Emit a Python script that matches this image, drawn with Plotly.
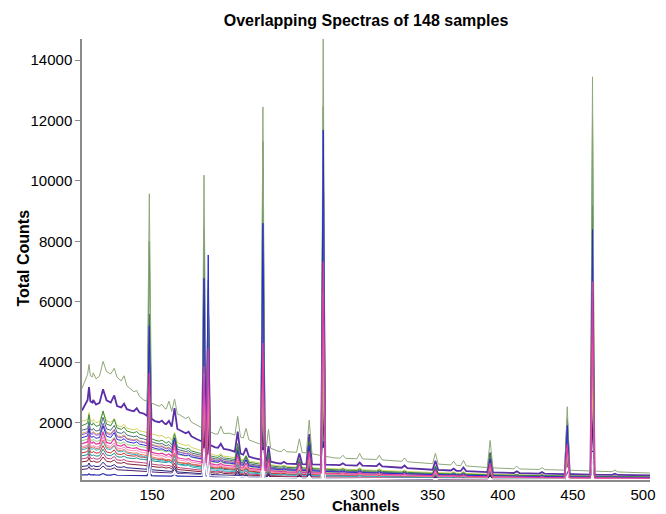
import numpy as np
import plotly.graph_objects as go

# ---------------- data ----------------
bg_channels = [100, 104, 110, 117, 125, 135, 144, 152, 160, 170, 182, 195,
               205, 222, 240, 260, 280, 310, 350, 400, 450, 505]
peak_channels = [105, 115, 123, 148, 166, 187, 190, 211, 217, 229, 233, 255,
                 262, 272, 352, 391, 446, 464]
peak_half_widths = [2.5, 2.5, 2.5, 1.5, 2.0, 1.4, 1.4, 2.0, 2.0, 1.5, 1.5, 2.0,
                    2.0, 1.5, 2.0, 2.0, 1.8, 1.5]
# weak lines / fluctuations
minor_channels = [108, 130, 139, 157, 162, 176, 199, 244, 286, 298, 312, 330,
                  365, 372, 410, 428, 480]
minor_half_width = 2.0

x_ticks = [150, 200, 250, 300, 350, 400, 450, 500]
y_ticks = [2000, 4000, 6000, 8000, 10000, 12000, 14000]

# background counts at bg_channels, peak heights above background at peak_channels,
# small bumps above background at minor_channels
bg_green = [3130, 3600, 3450, 3700, 3500, 3100, 2750, 2600, 2450, 2250, 1900, 1620,
            1650, 1380, 1050, 1000, 830, 780, 640, 480, 420, 330]
pk_green = [350, 400, 250, 6900, 450, 8400, 5000, 650, 350, 11200, 600, 450,
            1100, 13900, 350, 900, 2100, 13050]
mn_green = [150, 250, 120, 100, 300, 120, 250, 80, 100, 180, 150, 120, 130, 180, 90, 60, 60]

bg_purple = [2400, 2750, 2600, 2750, 2550, 2400, 2300, 2050, 1950, 1750, 1450, 1180,
             1100, 830, 650, 620, 600, 560, 440, 340, 290, 250]
pk_purple = [450, 400, 300, 3000, 650, 4800, 4200, 700, 250, 6500, 500, 350,
             1000, 9000, 300, 650, 1700, 7000]
mn_purple = [100, 150, 120, 80, 150, 100, 150, 60, 60, 100, 90, 80, 70, 120, 60, 50, 40]

bg_darkgreen = [1900, 1980, 1880, 1960, 1820, 1680, 1580, 1420, 1320, 1170, 1010, 860,
                810, 660, 530, 490, 440, 390, 320, 260, 230, 200]
pk_darkgreen = [300, 450, 250, 6500, 400, 7200, 5500, 550, 200, 10700, 450, 300,
                900, 12000, 250, 700, 1900, 11900]
mn_darkgreen = [80, 100, 70, 60, 90, 60, 80, 40, 40, 60, 50, 40, 40, 60, 30, 30, 20]

bg_slate = [1750, 1800, 1720, 1800, 1680, 1550, 1460, 1330, 1230, 1090, 950, 800,
            760, 610, 490, 450, 410, 360, 300, 245, 215, 190]
pk_slate = [250, 400, 200, 4200, 350, 7500, 5000, 500, 200, 9900, 400, 250,
            800, 9500, 250, 600, 1500, 9000]
mn_slate = [60, 90, 50, 40, 70, 50, 60, 30, 40, 50, 40, 30, 30, 50, 20, 20, 20]

bg_blue = [1500, 1560, 1480, 1560, 1440, 1340, 1260, 1150, 1060, 950, 830, 700,
           660, 540, 440, 410, 370, 330, 280, 230, 200, 180]
pk_blue = [250, 350, 200, 4000, 500, 6000, 6800, 450, 200, 8100, 350, 250,
           850, 11300, 200, 550, 1700, 8200]
mn_blue = [50, 80, 60, 40, 60, 40, 60, 30, 30, 40, 40, 30, 30, 40, 20, 20, 20]

bg_yellow = [2050, 2100, 2000, 2080, 1900, 1780, 1700, 1600, 1480, 1300, 1120, 920,
             870, 700, 560, 510, 470, 420, 350, 280, 240, 210]
pk_yellow = [250, 300, 200, 2000, 300, 2800, 2200, 400, 150, 3000, 300, 200,
             600, 3500, 200, 400, 900, 3300]
mn_yellow = [70, 100, 60, 50, 80, 60, 70, 40, 40, 60, 50, 40, 40, 60, 30, 30, 20]

bg_magenta = [1300, 1360, 1290, 1350, 1250, 1160, 1090, 990, 920, 820, 720, 610,
              580, 470, 380, 350, 320, 290, 245, 200, 175, 160]
pk_magenta = [250, 350, 200, 2600, 450, 3200, 3800, 400, 150, 4200, 400, 300,
              700, 7000, 200, 450, 1100, 6500]
mn_magenta = [50, 80, 40, 40, 60, 40, 50, 30, 30, 40, 30, 30, 20, 40, 20, 20, 10]

bg_pink = [1200, 1250, 1190, 1250, 1160, 1080, 1010, 920, 850, 760, 660, 560,
           530, 430, 350, 320, 300, 270, 230, 190, 165, 150]
pk_pink = [200, 300, 150, 2200, 350, 3000, 2800, 350, 120, 3600, 300, 200,
           600, 6000, 150, 400, 1000, 5200]
mn_pink = [40, 70, 40, 30, 50, 40, 50, 30, 20, 30, 30, 20, 20, 30, 20, 10, 10]

bg_cyan = [1100, 1150, 1090, 1140, 1060, 960, 880, 780, 700, 600, 500, 420,
           390, 320, 270, 250, 235, 215, 190, 160, 145, 130]
pk_cyan = [200, 250, 150, 2000, 300, 2600, 2400, 300, 100, 3000, 250, 150,
           500, 3600, 120, 300, 800, 3400]
mn_cyan = [40, 60, 30, 30, 40, 30, 40, 20, 20, 30, 20, 20, 20, 30, 10, 10, 10]

bg_red = [1000, 1040, 990, 1030, 960, 900, 850, 790, 740, 670, 590, 500,
          470, 380, 305, 280, 255, 230, 195, 160, 140, 130]
pk_red = [180, 220, 120, 2300, 300, 3000, 2700, 250, 100, 3500, 250, 150,
          500, 4500, 120, 300, 700, 3800]
mn_red = [40, 60, 30, 30, 40, 30, 40, 20, 20, 30, 20, 20, 20, 30, 10, 10, 10]

bg_khaki = [1650, 1700, 1620, 1690, 1570, 1450, 1370, 1250, 1160, 1030, 900, 760,
            720, 580, 470, 430, 390, 350, 290, 235, 205, 185]
pk_khaki = [220, 280, 180, 2200, 300, 2600, 2400, 350, 150, 3000, 300, 200,
            500, 3500, 150, 350, 800, 3200]
mn_khaki = [60, 90, 50, 40, 60, 40, 60, 30, 30, 40, 40, 30, 30, 40, 20, 20, 20]

bg_teal = [900, 940, 890, 930, 870, 820, 780, 720, 680, 620, 550, 470,
           440, 360, 290, 265, 240, 215, 180, 150, 132, 120]
pk_teal = [150, 200, 100, 1900, 250, 2400, 2200, 250, 80, 2800, 200, 120,
           400, 3400, 100, 250, 600, 3000]
mn_teal = [30, 50, 30, 20, 40, 30, 30, 20, 20, 20, 20, 20, 10, 20, 10, 10, 10]

bg_lilac = [1600, 1660, 1580, 1650, 1530, 1420, 1340, 1220, 1130, 1010, 880, 740,
            700, 570, 460, 420, 385, 345, 285, 230, 200, 180]
pk_lilac = [250, 350, 200, 3000, 400, 4600, 4000, 450, 150, 5500, 350, 250,
            700, 8200, 200, 450, 1200, 7200]
mn_lilac = [60, 80, 50, 40, 60, 40, 60, 30, 30, 40, 40, 30, 30, 40, 20, 20, 20]

bg_maroon = [700, 730, 690, 720, 670, 620, 585, 535, 495, 440, 385, 330,
             310, 255, 210, 195, 180, 165, 145, 125, 115, 110]
pk_maroon = [120, 150, 80, 1500, 200, 2000, 1800, 200, 60, 2400, 150, 100,
             350, 2800, 80, 200, 500, 2500]
mn_maroon = [30, 40, 20, 20, 30, 20, 30, 10, 10, 20, 10, 10, 10, 20, 10, 10, 10]

bg_navy = [550, 570, 545, 565, 530, 495, 465, 430, 400, 360, 320, 275,
           260, 220, 185, 175, 165, 150, 135, 120, 110, 105]
pk_navy = [100, 130, 70, 1300, 180, 1800, 1600, 150, 50, 2100, 120, 80,
           300, 2500, 60, 150, 400, 2200]
mn_navy = [20, 30, 20, 20, 20, 20, 20, 10, 10, 10, 10, 10, 10, 10, 10, 10, 10]

bg_lightgreen = [1400, 1450, 1380, 1440, 1340, 1250, 1190, 1100, 1030, 930, 810, 680,
                 640, 510, 410, 375, 345, 310, 260, 205, 180, 165]
pk_lightgreen = [200, 300, 150, 2400, 300, 3200, 2800, 350, 120, 3800, 300, 200,
                 550, 4500, 150, 350, 900, 4000]
mn_lightgreen = [50, 70, 40, 30, 50, 40, 50, 20, 20, 30, 30, 20, 20, 30, 20, 10, 10]

bg_plum = [450, 470, 450, 465, 440, 410, 390, 360, 340, 310, 280, 245,
           235, 200, 175, 165, 155, 145, 130, 118, 110, 105]
pk_plum = [80, 100, 60, 1000, 150, 1500, 1300, 120, 40, 1700, 100, 60,
           250, 2100, 50, 120, 300, 1700]
mn_plum = [20, 20, 10, 10, 20, 10, 20, 10, 10, 10, 10, 10, 10, 10, 10, 10, 10]

bg_white = [380, 390, 380, 385, 370, 350, 335, 315, 300, 280, 260, 235,
            225, 200, 180, 170, 160, 150, 140, 130, 120, 115]
pk_white = [0, 0, 0, 700, 0, 900, 700, 0, 0, 900, 0, 0,
            0, 1000, 0, 0, 400, 900]
mn_white = [0] * 17

bg_bottom = [270, 270, 265, 262, 258, 252, 245, 238, 232, 226, 220, 214,
             210, 204, 198, 194, 190, 185, 180, 175, 170, 165]
pk_bottom = [40, 50, 30, 500, 60, 900, 700, 60, 20, 1000, 60, 40,
             100, 1200, 30, 80, 250, 900]
mn_bottom = [10, 10, 10, 10, 10, 10, 10, 10, 10, 10, 10, 10, 10, 10, 10, 10, 10]

bg_salmon = [1150, 1200, 1140, 1190, 1100, 1000, 930, 840, 770, 680, 600, 520,
             500, 420, 345, 315, 285, 255, 215, 180, 160, 145]
pk_salmon = [180, 250, 130, 2100, 280, 2800, 2600, 300, 100, 3400, 250, 150,
             450, 4200, 120, 300, 700, 3800]
mn_salmon = [40, 60, 30, 30, 40, 30, 40, 20, 20, 30, 20, 20, 20, 30, 10, 10, 10]

bg_rose = [800, 835, 790, 825, 765, 710, 670, 610, 565, 505, 440, 375,
           355, 290, 235, 215, 200, 185, 160, 135, 125, 115]
pk_rose = [150, 180, 100, 1800, 250, 2600, 2400, 250, 80, 3200, 200, 120,
           400, 4000, 100, 250, 600, 3400]
mn_rose = [30, 40, 20, 20, 30, 20, 30, 10, 10, 20, 10, 10, 10, 20, 10, 10, 10]

# drawing order (first drawn is at the bottom) with line styles
traces = [
    (bg_bottom, pk_bottom, mn_bottom, "#2c2caa", 1.2),
    (bg_plum, pk_plum, mn_plum, "#4e1f66", 1.0),
    (bg_navy, pk_navy, mn_navy, "#23237f", 1.0),
    (bg_maroon, pk_maroon, mn_maroon, "#842434", 1.0),
    (bg_rose, pk_rose, mn_rose, "#c0407a", 1.0),
    (bg_teal, pk_teal, mn_teal, "#1f8f8f", 1.0),
    (bg_red, pk_red, mn_red, "#c83232", 1.0),
    (bg_cyan, pk_cyan, mn_cyan, "#35b5c5", 1.0),
    (bg_salmon, pk_salmon, mn_salmon, "#e5735a", 1.0),
    (bg_lightgreen, pk_lightgreen, mn_lightgreen, "#95d47a", 1.0),
    (bg_khaki, pk_khaki, mn_khaki, "#d6a85c", 1.0),
    (bg_yellow, pk_yellow, mn_yellow, "#cfd35a", 1.0),
    (bg_white, pk_white, mn_white, "#ffffff", 1.2),
    (bg_purple, pk_purple, mn_purple, "#5b2fa5", 1.8),
    (bg_lilac, pk_lilac, mn_lilac, "#9a5ad0", 1.0),
    (bg_slate, pk_slate, mn_slate, "#4a6a84", 1.0),
    (bg_darkgreen, pk_darkgreen, mn_darkgreen, "#3c8a3c", 1.0),
    (bg_green, pk_green, mn_green, "#8fa87a", 1.0),
    (bg_blue, pk_blue, mn_blue, "#2a2ad0", 1.0),
    (bg_pink, pk_pink, mn_pink, "#f28ac4", 1.0),
    (bg_magenta, pk_magenta, mn_magenta, "#e23a9c", 1.2),
]


def build_spectrum(bg, pk, mn):
    pts = dict(zip(bg_channels, bg))
    bumps = list(zip(peak_channels, pk, peak_half_widths)) + \
        [(c, h, minor_half_width) for c, h in zip(minor_channels, mn)]
    for c, h, w in bumps:
        if h <= 0:
            continue
        for xx in (c - w, c + w):
            if xx not in pts:
                pts[xx] = float(np.interp(xx, bg_channels, bg))
        pts[c] = float(np.interp(c, bg_channels, bg)) + h
    xs = sorted(pts)
    return xs, [pts[k] for k in xs]


fig = go.Figure()
for bg, pk, mn, color, width in traces:
    xs, ys = build_spectrum(bg, pk, mn)
    fig.add_trace(go.Scatter(x=xs, y=ys, mode="lines",
                             line=dict(color=color, width=width),
                             hoverinfo="skip", showlegend=False))

FONT = "Liberation Sans, Arial, sans-serif"
fig.update_layout(
    width=666, height=514, autosize=False,
    margin=dict(l=82, r=11, t=39, b=34),
    paper_bgcolor="white", plot_bgcolor="white",
    font=dict(family=FONT, size=15, color="black"),
    title=dict(text="<b>Overlapping Spectras of 148 samples</b>",
               x=0.5, xref="paper", xanchor="center",
               y=1 - 20 / 514, yref="container", yanchor="middle",
               font=dict(family=FONT, size=16, color="black")),
    showlegend=False,
    hovermode=False,
    xaxis=dict(range=[100, 505], tickvals=x_ticks, ticks="", showgrid=False,
               zeroline=False, showline=True, linecolor="#8a8a8a", linewidth=1.5,
               tickfont=dict(family=FONT, size=15, color="black")),
    yaxis=dict(range=[100, 14700], tickvals=y_ticks, tickformat="d",
               ticks="outside", ticklen=5,
               tickcolor="#8a8a8a", showgrid=False, zeroline=False, showline=True,
               linecolor="#8a8a8a", linewidth=1.5,
               tickfont=dict(family=FONT, size=15, color="black")),
    annotations=[
        dict(text="<b>Channels</b>", xref="paper", yref="paper", x=0.5,
             y=-(506 - 480) / 441, xanchor="center", yanchor="middle",
             showarrow=False, font=dict(family=FONT, size=15, color="black")),
        dict(text="<b>Total Counts</b>", xref="paper", yref="paper",
             x=-(82 - 22) / 573, y=(480 - 258) / 441, xanchor="center",
             yanchor="middle", textangle=-90, showarrow=False,
             font=dict(family=FONT, size=16, color="black")),
    ],
)

fig.write_html("out.html", config={"displayModeBar": False},
               post_script="document.body.style.margin='0px';")
